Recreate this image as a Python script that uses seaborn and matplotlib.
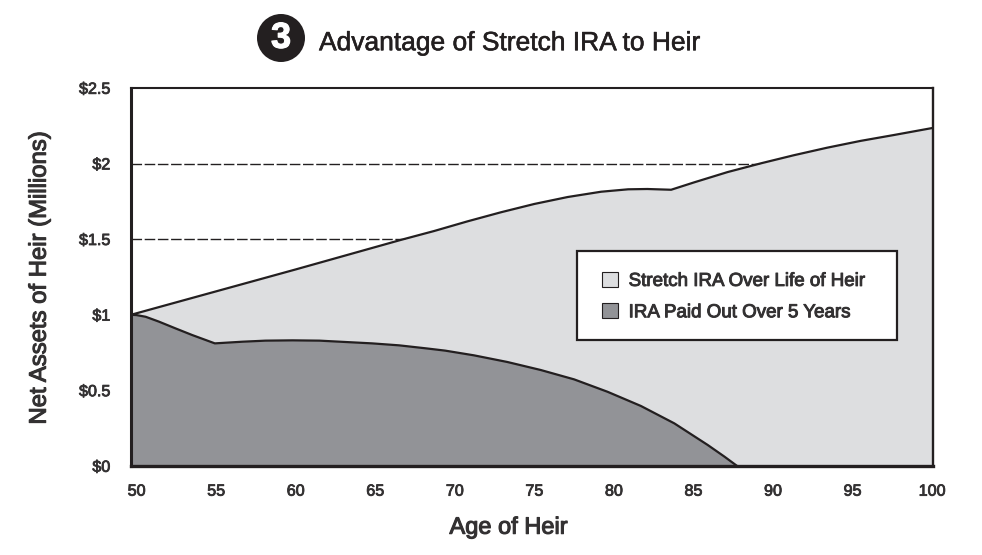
import numpy as np
import pandas as pd
import seaborn as sns
import matplotlib
matplotlib.use("Agg")
import matplotlib.pyplot as plt
import matplotlib.patheffects as pe
from matplotlib.patches import Patch, Ellipse, Rectangle

age_stretch = [49.65, 60, 66.6, 68.7, 70.8, 72.9, 75, 77.1, 79.2, 80.9, 82.1, 83.6, 85.05, 87.15, 89.25, 91.3, 93.4, 95.5, 97.6, 100]
val_stretch = [1.0, 1.30, 1.495, 1.554, 1.618, 1.678, 1.733, 1.779, 1.814, 1.83, 1.832, 1.827, 1.876, 1.944, 2.002, 2.055, 2.105, 2.15, 2.189, 2.235]
age_paid = [49.65, 50.0, 50.57, 51.4, 52.45, 53.5, 54.92, 56.65, 58.1, 59.8, 61.5, 63.15, 64.8, 66.5, 68.2, 69.4, 71.2, 73.3, 75.4, 77.5, 79.6, 81.7, 83.8, 85.9, 86.95, 87.75, 100]
val_paid = [1.0, 0.998, 0.987, 0.955, 0.91, 0.866, 0.811, 0.822, 0.829, 0.831, 0.829, 0.82, 0.811, 0.798, 0.778, 0.763, 0.732, 0.688, 0.635, 0.573, 0.491, 0.397, 0.282, 0.139, 0.062, 0.0, 0.0]
x_ticks = [50, 55, 60, 65, 70, 75, 80, 85, 90, 95, 100]
y_ticks = [0, 0.5, 1, 1.5, 2, 2.5]
y_labels = ["$0", "$0.5", "$1", "$1.5", "$2", "$2.5"]
name_stretch = "Stretch IRA Over Life of Heir"
name_paid = "IRA Paid Out Over 5 Years"

INK = "#231f20"
LIGHT = "#dddee0"
DARK = "#929397"
W, H = 982, 555

sns.set_theme(style="white")
plt.rcParams["font.family"] = ["Liberation Sans", "DejaVu Sans"]
plt.rcParams["text.usetex"] = False
plt.rcParams["text.hinting"] = "none"
plt.rcParams["text.hinting_factor"] = 1


def medium(t, w=0.45):
    t.set_path_effects([pe.withStroke(linewidth=w, foreground=t.get_color())])
    return t


fig = plt.figure(figsize=(W / 100, H / 100), dpi=100)
ax = fig.add_axes([131 / W, 1 - 466 / H, (933 - 131) / W, (466 - 88) / H])

df_s = pd.DataFrame({"age": age_stretch, "value": val_stretch})
df_p = pd.DataFrame({"age": age_paid, "value": val_paid})

for v in (1.5, 2.0):
    ax.axhline(v, color=INK, lw=1.0, dashes=(7.6, 1.9), zorder=1)
ax.fill_between(age_stretch, val_stretch, 0, color=LIGHT, lw=0, zorder=2)
ax.fill_between(age_paid, val_paid, 0, color=DARK, lw=0, zorder=3)
sns.lineplot(data=df_s, x="age", y="value", color=INK, lw=1.6, ax=ax, zorder=4, estimator=None, sort=False)
sns.lineplot(data=df_p[df_p.age < 88], x="age", y="value", color=INK, lw=1.6, ax=ax, zorder=4, estimator=None, sort=False)

ax.set_xlim(49.65, 100.06)
ax.set_ylim(0, 2.5)
ax.set_xticks(x_ticks)
ax.set_yticks(y_ticks)
ax.set_yticklabels(y_labels)
ax.tick_params(axis="x", length=0, pad=13, labelsize=11.6, labelcolor=INK)
ax.tick_params(axis="y", length=8, width=1.1, color=INK, pad=7, labelsize=11.6, labelcolor=INK)
for lab in ax.get_xticklabels() + ax.get_yticklabels():
    lab.set_color("#333132")
    medium(lab, 0.6)
for side, lw in dict(left=2.2, right=1.7, top=1.5, bottom=2.4).items():
    ax.spines[side].set_visible(True)
    ax.spines[side].set_color(INK)
    ax.spines[side].set_linewidth(lw)
    ax.spines[side].set_zorder(6)

ax.set_xlabel("")
ax.set_ylabel("")
medium(fig.text(509.5 / W, 1 - 527.5 / H, "Age of Heir", ha="center", va="center", fontsize=17, color="#333132"), 0.8)
medium(fig.text(39.5 / W, 1 - 277 / H, "Net Assets of Heir (Millions)", ha="center", va="center", rotation=90, fontsize=17.2, color="#333132"), 0.8)
medium(fig.text(319 / W, 1 - 43.5 / H, "Advantage of Stretch IRA to Heir", ha="left", va="center", fontsize=19, color=INK), 0.4)

fig.add_artist(Ellipse((281 / W, 1 - 38 / H), 48 / W, 48 / H, transform=fig.transFigure, fc=INK, ec="none"))
medium(fig.text(281 / W, 1 - 38.5 / H, "3", ha="center", va="center", fontsize=26, fontweight="bold", color="white"), 0.8)

# legend box and legend contents
box = Rectangle((577 / W, 1 - 340 / H), 320 / W, 89 / H, transform=fig.transFigure, fc="white", ec=INK, lw=1.6, zorder=7)
ax.add_patch(box)
handles = [Patch(fc=LIGHT, ec=INK, lw=0.8, label=name_stretch), Patch(fc=DARK, ec=INK, lw=0.8, label=name_paid)]
leg = ax.legend(handles=handles, loc="upper left", bbox_to_anchor=(602 / W, 1 - 272 / H), bbox_transform=fig.transFigure,
                frameon=False, prop={"size": 13.5}, labelcolor="#333132",
                handlelength=0.84, handleheight=0.84, handletextpad=0.58, labelspacing=0.72,
                borderpad=0, borderaxespad=0)
leg.set_zorder(8)
for t in leg.get_texts():
    medium(t, 0.7)

fig.savefig("out.png", dpi=100)
